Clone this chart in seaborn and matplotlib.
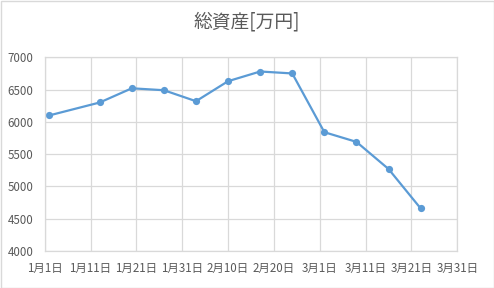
import matplotlib
matplotlib.use("Agg")
import matplotlib.pyplot as plt
import matplotlib.dates as mdates
from matplotlib.patches import Rectangle
import seaborn as sns
import pandas as pd

dates = ["2020-01-02", "2020-01-13", "2020-01-20", "2020-01-27", "2020-02-03", "2020-02-10",
         "2020-02-17", "2020-02-24", "2020-03-02", "2020-03-09", "2020-03-16", "2020-03-23"]
values = [6100, 6300, 6520, 6490, 6320, 6630, 6780, 6750, 5840, 5690, 5270, 4660]
title = "総資産[万円]"
y_ticks = [4000, 4500, 5000, 5500, 6000, 6500, 7000]

df = pd.DataFrame({"date": pd.to_datetime(dates), "value": values})

sns.set_theme(style="white")
plt.rcParams["font.family"] = ["Noto Sans CJK JP", "DejaVu Sans"]

fig = plt.figure(figsize=(4.94, 2.88), dpi=100)
ax = fig.add_axes([44.7 / 494, 1 - 251 / 288, (457.3 - 44.7) / 494, (251 - 57.3) / 288])

color = "#5b9bd5"
sns.lineplot(data=df, x="date", y="value", ax=ax, color=color, linewidth=1.6,
             marker="o", markersize=5.2, markeredgewidth=0, markerfacecolor=color)

x_ticks = pd.date_range("2020-01-01", "2020-03-31", freq="10D")
ax.set_xlim(x_ticks[0], x_ticks[-1])
ax.set_ylim(4000, 7000)
ax.set_xticks(x_ticks)
ax.set_xticklabels([f"{d.month}月{d.day}日" for d in x_ticks])
ax.set_yticks(y_ticks)
ax.set_yticklabels([str(v) for v in y_ticks])
ax.tick_params(axis="both", labelsize=8.3, colors="#595959", length=0)
ax.tick_params(axis="y", pad=8)
ax.tick_params(axis="x", pad=8)
ax.grid(True, color="#d9d9d9", linewidth=0.9)
for s in ax.spines.values():
    s.set_color("#d9d9d9")
    s.set_linewidth(0.9)
ax.set_xlabel("")
ax.set_ylabel("")

fig.text(0.5, 1 - 22 / 288, title, ha="center", va="center", fontsize=13.5, color="#595959")
fig.patches.append(Rectangle((0.5 / 494, 0.5 / 288), 1 - 1 / 494, 1 - 1 / 288, transform=fig.transFigure,
                             fill=False, edgecolor="#d9d9d9", linewidth=1))

fig.savefig("out.png", dpi=100, facecolor="white")
